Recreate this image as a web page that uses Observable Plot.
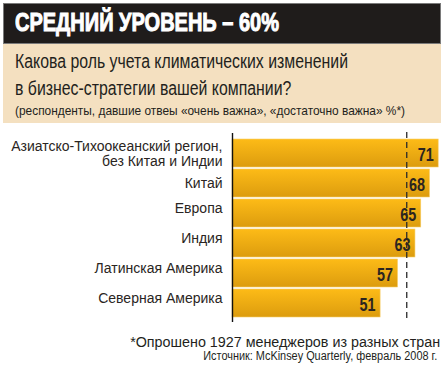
<!DOCTYPE html>
<html>
<head>
<meta charset="utf-8">
<script src="https://cdn.jsdelivr.net/npm/d3@7"></script>
<script src="https://cdn.jsdelivr.net/npm/@observablehq/plot@0.6"></script>
<style>
  html, body { margin: 0; padding: 0; background: #fff; }
  body { width: 445px; height: 376px; position: relative; overflow: hidden; font-family: "Liberation Sans", Arial, sans-serif; }
  .t { position: absolute; white-space: nowrap; line-height: 1; display: inline-block; }
  #head { position: absolute; left: 3px; top: 3px; width: 436px; height: 39px; background: #1f1c1b; border: 1px solid #7a7a7a; }
  #title { left: 11px; top: 6px; color: #fff; font-size: 25.5px; font-weight: bold; -webkit-text-stroke: 1px #fff; transform-origin: 0 0; }
  #band { position: absolute; left: 3px; top: 44px; width: 438px; height: 79px; background: #f4e0c0; }
  .sub { left: 12px; color: #231f1c; font-size: 20px; transform-origin: 0 0; }
  #sub1 { top: 7px; }
  #sub2 { top: 33.5px; }
  #note { left: 12px; top: 60px; color: #231f1c; font-size: 13px; transform-origin: 0 0; }
  #chart { position: absolute; left: 0; top: 125px; }
  #foot1 { right: 5px; top: 335px; font-size: 14px; color: #231f1c; transform-origin: 100% 0; }
  #foot2 { right: 8px; top: 349.5px; font-size: 12.5px; color: #231f1c; transform-origin: 100% 0; }
</style>
</head>
<body>
<div id="head"><div id="title" class="t">СРЕДНИЙ УРОВЕНЬ – 60%</div></div>
<div id="band">
  <div id="sub1" class="t sub">Какова роль учета климатических изменений</div>
  <div id="sub2" class="t sub">в бизнес-стратегии вашей компании?</div>
  <div id="note" class="t">(респонденты, давшие отвеы «очень важна», «достаточно важна» %*)</div>
</div>
<div id="chart"></div>
<div id="foot1" class="t">*Опрошено 1927 менеджеров из разных стран</div>
<div id="foot2" class="t">Источник: McKinsey Quarterly, февраль 2008 г.</div>
<script>
const regions = [
  "Азиатско-Тихоокеанский регион,\nбез Китая и Индии",
  "Китай",
  "Европа",
  "Индия",
  "Латинская Америка",
  "Северная Америка"
];
const values = [71, 68, 65, 63, 57, 51];
const average = 60;

const data = regions.map((r, i) => ({region: r, value: values[i], i}));

const chart = Plot.plot({
  width: 445,
  height: 200,
  marginLeft: 232,
  marginRight: 1,
  marginTop: 12,
  marginBottom: 5,
  style: {fontFamily: "'Liberation Sans', Arial, sans-serif", background: "transparent"},
  x: {domain: [0, 73], axis: null},
  y: {domain: regions, axis: null, paddingInner: 0.06, paddingOuter: 0},
  marks: [
    Plot.barX(data, {x: "value", y: "region", fill: "url(#barGrad)", stroke: "#f7cf6a", strokeWidth: 0.6}),
    Plot.ruleX([0], {stroke: "#111", strokeWidth: 1.4, insetTop: -4, insetBottom: -2}),
    Plot.ruleX([average], {stroke: "#2a2a2a", strokeWidth: 1.3, strokeDasharray: "6,4", insetTop: -5, insetBottom: 2}),
    Plot.text(data.filter(d => d.i < 2), {x: 0, y: "region", text: "region", textAnchor: "end", dx: -10, dy: 0, fontSize: 14, fill: "#2a2522", lineHeight: 1.1, className: "lab"}),
    Plot.text(data.filter(d => d.i >= 2), {x: 0, y: "region", text: "region", textAnchor: "end", dx: -10, dy: -5, fontSize: 14, fill: "#2a2522", className: "lab"}),
    Plot.text(data, {x: "value", y: "region", text: d => String(d.value), textAnchor: "end", dx: -5, dy: 1, fontSize: 19, fontWeight: "bold", fill: "#2b2520", className: "val"})
  ]
});

const svg = d3.select(chart);
const defs = svg.insert("defs", ":first-child");
const g = defs.append("linearGradient").attr("id", "barGrad").attr("x1", 0).attr("y1", 0).attr("x2", 0).attr("y2", 1);
g.append("stop").attr("offset", "0%").attr("stop-color", "#fdbb17");
g.append("stop").attr("offset", "100%").attr("stop-color", "#dc9c0e");
// condense value labels to match the narrow bold face
svg.selectAll(".val text").attr("textLength", 16).attr("lengthAdjust", "spacingAndGlyphs");

document.getElementById("chart").appendChild(chart);

// horizontally condense header/footer texts to the reference widths
function fit(id, target, scaleOverride) {
  const el = document.getElementById(id);
  const w = el.getBoundingClientRect().width;
  const s = scaleOverride || target / w;
  el.style.transform = `scaleX(${s})`;
  return s;
}
fit("title", 264);
const s1 = fit("sub1", 333);
fit("sub2", 0, s1);
fit("note", 390);
fit("foot1", 310);
fit("foot2", 234);
</script>
</body>
</html>
